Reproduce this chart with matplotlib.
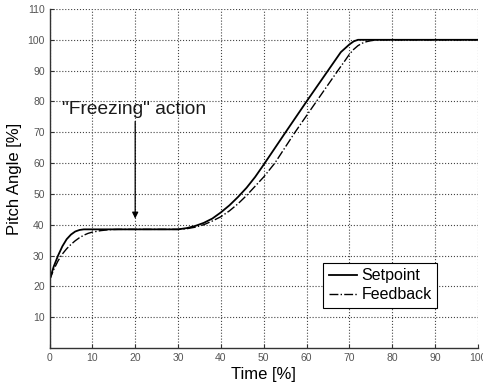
import matplotlib
matplotlib.use("Agg")
import matplotlib.pyplot as plt

# Setpoint curve
t_set = [0, 1, 2, 3, 4, 5, 6, 7, 8, 10, 20, 30, 32, 34, 36, 38, 40, 42, 44, 46, 48,
         50, 55, 60, 65, 68, 70, 71, 72, 73, 80, 90, 100]
v_set = [22, 26.5, 30, 33, 35.3, 36.8, 37.8, 38.3, 38.5, 38.5, 38.5, 38.5, 38.9, 39.6,
         40.6, 42, 44, 46.3, 49, 52, 55.5, 59.5, 69.8, 80, 90, 96, 98.5, 99.5, 100, 100,
         100, 100, 100]

# Feedback curve
t_fb = [0, 1, 2, 3, 4, 5, 6, 7, 8, 9, 10, 12, 14, 16, 20, 30, 32, 34, 36, 38, 40, 42,
        44, 46, 48, 50, 52.6, 57.3, 62.3, 67.3, 69, 70, 71, 72, 73, 74, 75, 76, 77, 78, 100]
v_fb = [22, 25.5, 28.3, 30.5, 32.2, 33.6, 34.8, 35.8, 36.6, 37.2, 37.6, 38.1, 38.4, 38.5,
        38.5, 38.5, 38.7, 39.2, 40, 41.2, 42.6, 44.5, 46.8, 49.5, 52.5, 55.5, 60, 70, 80,
        90, 93.3, 95.3, 96.9, 98.1, 98.9, 99.4, 99.7, 99.9, 100, 100, 100]

x_ticks = list(range(0, 101, 10))
y_ticks = list(range(10, 111, 10))

plt.rcParams['font.family'] = ['Liberation Sans', 'DejaVu Sans']

fig = plt.figure(figsize=(4.83, 3.84), dpi=100)
ax = fig.add_axes([0.1025, 0.0937, 0.887, 0.8829])

ax.plot(t_set, v_set, color='black', linewidth=1.3, label='Setpoint')
ax.plot(t_fb, v_fb, color='black', linewidth=1.0, linestyle='-.', label='Feedback')

ax.set_xlim(0, 100)
ax.set_ylim(0, 110)
ax.set_xticks(x_ticks)
ax.set_yticks(y_ticks)
ax.tick_params(direction='in', length=3, labelsize=7.5, labelcolor='#555555', color='#333333')
ax.grid(True, linestyle=':', color='#444444', linewidth=0.8)

for side in ['top', 'right']:
    ax.spines[side].set_visible(False)
for side in ['left', 'bottom']:
    ax.spines[side].set_linewidth(1.0)
    ax.spines[side].set_color('#333333')

ax.set_xlabel('Time [%]', fontsize=12, labelpad=3)
ax.set_ylabel('Pitch Angle [%]', fontsize=12, labelpad=4)

# annotation
ax.annotate('"Freezing" action', xy=(20, 42), xytext=(2.8, 77.5), fontsize=13.8,
            va='center', ha='left', color='#1a1a1a')
ax.annotate('', xy=(20, 42), xytext=(20, 73.5),
            arrowprops=dict(arrowstyle='-|>', color='black', lw=0.9,
                            mutation_scale=9, shrinkA=0, shrinkB=0))

leg = ax.legend(loc='lower right', bbox_to_anchor=(0.905, 0.118), borderaxespad=0,
                fontsize=11.5, handlelength=1.75, fancybox=False, framealpha=1,
                edgecolor='black', borderpad=0.35, labelspacing=0.25, handletextpad=0.3)
leg.get_frame().set_linewidth(0.8)

fig.savefig('out.png', dpi=100)
